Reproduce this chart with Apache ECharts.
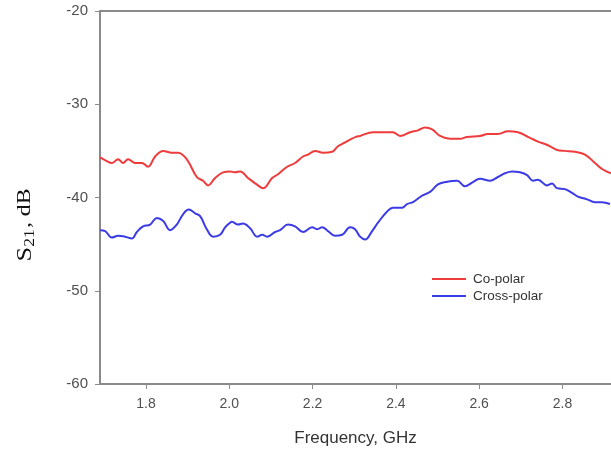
<!DOCTYPE html>
<html>
<head>
<meta charset="utf-8">
<script src="https://cdn.jsdelivr.net/npm/echarts@6/dist/echarts.min.js"></script>
<style>
  html, body { margin: 0; padding: 0; background: #fff; }
  #chart { width: 611px; height: 452px; }
</style>
</head>
<body>
<div id="chart"></div>
<script>
// Measured transmission S21 (dB) versus frequency (GHz)
const coPolarFreq = [1.690, 1.706, 1.718, 1.733, 1.745, 1.757, 1.774, 1.790, 1.805, 1.822, 1.841, 1.862, 1.877, 1.898, 1.922, 1.937, 1.949, 1.966, 1.985, 2.002, 2.014, 2.026, 2.045, 2.069, 2.081, 2.103, 2.117, 2.139, 2.158, 2.177, 2.189, 2.206, 2.225, 2.247, 2.261, 2.278, 2.290, 2.304, 2.314, 2.345, 2.379, 2.393, 2.410, 2.434, 2.453, 2.470, 2.487, 2.506, 2.530, 2.554, 2.571, 2.602, 2.621, 2.645, 2.669, 2.693, 2.717, 2.741, 2.765, 2.787, 2.806, 2.830, 2.854, 2.878, 2.897, 2.916];
const coPolarDb = [-35.7, -36.1, -36.3, -35.9, -36.3, -35.9, -36.3, -36.3, -36.7, -35.6, -35.0, -35.2, -35.2, -35.9, -37.8, -38.2, -38.7, -37.9, -37.3, -37.2, -37.3, -37.2, -37.9, -38.7, -39.0, -37.9, -37.5, -36.7, -36.3, -35.6, -35.4, -35.0, -35.2, -35.1, -34.5, -34.1, -33.8, -33.5, -33.4, -33.0, -33.0, -33.0, -33.4, -33.0, -32.8, -32.5, -32.7, -33.4, -33.7, -33.7, -33.5, -33.4, -33.2, -33.2, -32.9, -33.0, -33.5, -34.0, -34.4, -34.9, -35.0, -35.1, -35.4, -36.3, -37.0, -37.4];

const crossPolarFreq = [1.690, 1.702, 1.718, 1.733, 1.750, 1.766, 1.778, 1.793, 1.810, 1.826, 1.841, 1.858, 1.874, 1.889, 1.903, 1.918, 1.930, 1.946, 1.961, 1.978, 1.990, 2.002, 2.006, 2.021, 2.033, 2.050, 2.067, 2.079, 2.091, 2.110, 2.122, 2.141, 2.158, 2.177, 2.199, 2.211, 2.223, 2.237, 2.254, 2.271, 2.290, 2.302, 2.314, 2.326, 2.343, 2.357, 2.379, 2.393, 2.415, 2.427, 2.441, 2.463, 2.482, 2.501, 2.523, 2.547, 2.566, 2.583, 2.602, 2.626, 2.645, 2.662, 2.679, 2.698, 2.715, 2.729, 2.741, 2.763, 2.775, 2.787, 2.806, 2.823, 2.837, 2.859, 2.878, 2.895, 2.914];
const crossPolarDb = [-43.5, -43.6, -44.3, -44.1, -44.2, -44.4, -43.7, -43.1, -42.9, -42.2, -42.5, -43.5, -42.9, -41.8, -41.3, -41.7, -42.0, -43.4, -44.2, -44.0, -43.2, -42.7, -42.6, -42.9, -42.8, -43.3, -44.2, -44.0, -44.2, -43.7, -43.5, -42.9, -43.1, -43.7, -43.2, -43.4, -43.2, -43.6, -44.1, -44.0, -43.2, -43.4, -44.2, -44.5, -43.6, -42.7, -41.5, -41.1, -41.1, -40.7, -40.5, -39.8, -39.4, -38.6, -38.3, -38.2, -38.8, -38.4, -38.0, -38.2, -37.8, -37.4, -37.2, -37.3, -37.6, -38.2, -38.1, -38.7, -38.5, -39.0, -39.1, -39.5, -39.9, -40.2, -40.5, -40.5, -40.7];

const freqTicks = [1.8, 2.0, 2.2, 2.4, 2.6, 2.8];
const dbTicks = [-60, -50, -40, -30, -20];
const seriesNames = ['Co-polar', 'Cross-polar'];

const pairs = (xs, ys) => xs.map((x, i) => [x, ys[i]]);

const axisGray = '#8a8a8a';
const labelGray = '#505050';
const sans = 'Liberation Sans, Arial, sans-serif';
const serif = 'Liberation Serif, Times New Roman, serif';

const chart = echarts.init(document.getElementById('chart'), null, { renderer: 'canvas' });

chart.setOption({
  animation: false,
  backgroundColor: '#ffffff',
  grid: { left: 100, top: 11, right: 0, bottom: 67, containLabel: false },
  legend: {
    data: seriesNames,
    orient: 'vertical',
    left: 432,
    top: 272,
    icon: 'rect',
    itemWidth: 34,
    itemHeight: 2,
    itemGap: 3,
    padding: 0,
    textStyle: { fontFamily: sans, fontSize: 13.5, color: '#333', padding: [0, 0, 0, 2] }
  },
  // Vertical axis title with subscript, stretched along its reading direction
  graphic: [{
    type: 'text',
    x: 25,
    y: 225,
    rotation: Math.PI / 2,
    scaleX: 1.25,
    style: {
      text: '{s|S}{sub|21}{t|, dB}',
      align: 'center',
      verticalAlign: 'middle',
      fill: '#111',
      rich: {
        s: { fontFamily: serif, fontSize: 21, fill: '#111' },
        sub: { fontFamily: serif, fontSize: 14, fill: '#111', verticalAlign: 'bottom', padding: [10, 1, 0, 0] },
        t: { fontFamily: serif, fontSize: 19, fill: '#111' }
      }
    }
  }],
  xAxis: [
    {
      type: 'value',
      min: 1.6896,
      max: 2.9165,
      position: 'bottom',
      splitLine: { show: false },
      axisLine: { show: true, lineStyle: { color: axisGray, width: 2 } },
      axisTick: { show: true, length: 5, inside: false, customValues: freqTicks, lineStyle: { color: axisGray, width: 1 } },
      axisLabel: {
        customValues: freqTicks,
        formatter: v => v.toFixed(1),
        margin: 13,
        color: labelGray,
        fontFamily: sans,
        fontSize: 14
      },
      name: 'Frequency, GHz',
      nameLocation: 'middle',
      nameGap: 46,
      nameTextStyle: { fontFamily: sans, fontSize: 17, color: '#333' }
    },
    {
      type: 'value',
      min: 1.6896,
      max: 2.9165,
      position: 'top',
      splitLine: { show: false },
      axisLine: { show: true, lineStyle: { color: axisGray, width: 2 } },
      axisTick: { show: false },
      axisLabel: { show: false }
    }
  ],
  yAxis: {
    type: 'value',
    min: dbTicks[0],
    max: dbTicks[dbTicks.length - 1],
    interval: 10,
    splitLine: { show: false },
    axisLine: { show: true, lineStyle: { color: axisGray, width: 2 } },
    axisTick: { show: true, length: 5, lineStyle: { color: axisGray, width: 1 } },
    axisLabel: {
      margin: 12,
      color: labelGray,
      fontFamily: sans,
      fontSize: 15
    }
  },
  series: [
    {
      name: seriesNames[0],
      type: 'line',
      data: pairs(coPolarFreq, coPolarDb),
      showSymbol: false,
      symbol: 'none',
      smooth: 0.4,
      lineStyle: { color: '#ee3b3b', width: 2 },
      itemStyle: { color: '#ee3b3b' }
    },
    {
      name: seriesNames[1],
      type: 'line',
      data: pairs(crossPolarFreq, crossPolarDb),
      showSymbol: false,
      symbol: 'none',
      smooth: 0.4,
      lineStyle: { color: '#3b3be6', width: 2 },
      itemStyle: { color: '#3b3be6' }
    }
  ]
});
</script>
</body>
</html>
